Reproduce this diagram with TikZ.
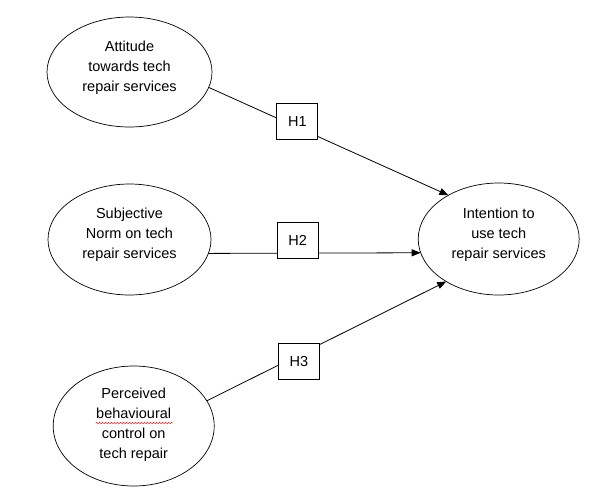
\documentclass[tikz,border=0pt]{standalone}
\usepackage{fontspec}
\setmainfont{Liberation Sans}
\usetikzlibrary{shapes.geometric,arrows.meta,decorations.pathmorphing}

\tikzset{
  construct/.style={draw, ellipse, line width=0.7pt, inner sep=0pt, outer sep=0pt,
    align=center, font=\fontsize{14.5}{20}\selectfont, text depth=12pt},
  hyp/.style={draw, fill=white, line width=0.9pt, minimum width=41pt, minimum height=36pt,
    inner sep=0pt, outer sep=0pt, font=\fontsize{14.5}{16}\selectfont},
  link/.style={line width=0.8pt, -{Triangle[length=9pt,width=7pt]}},
}

\begin{document}
\begin{tikzpicture}[x=1pt,y=-1pt]
  \useasboundingbox (0,0) rectangle (613,499);

  \node[construct, minimum width=165pt, minimum height=110pt] (att) at (129.5,72) {Attitude\\towards tech\\repair services};
  \node[construct, minimum width=163pt, minimum height=111pt] (sn) at (129.5,239.5) {Subjective\\Norm on tech\\repair services};
  \node[construct, minimum width=161pt, minimum height=120pt, text depth=6pt] (pbc) at (133.7,426) {Perceived\\behavioural\\control on\\tech repair};
  \node[construct, minimum width=161pt, minimum height=112pt] (int) at (498.7,239) {Intention to\\use tech\\repair services};

  \draw[link] (att.-11) -- node[hyp, pos=0.37, yshift=5.5pt] (h1) {H1} (int.139);
  \draw[link] (sn.-10) -- node[hyp, pos=0.42, yshift=12.4pt] (h2) {H2} (int.190);
  \draw[link] (pbc.19) -- node[hyp, pos=0.385, yshift=-6.4pt] (h3) {H3} (int.219);

  \draw[red, line width=0.5pt, decorate, decoration={snake, amplitude=0.7pt, segment length=3pt}]
    ([xshift=-38pt,yshift=3pt]pbc.center) -- ([xshift=39pt,yshift=3pt]pbc.center);
\end{tikzpicture}
\end{document}
